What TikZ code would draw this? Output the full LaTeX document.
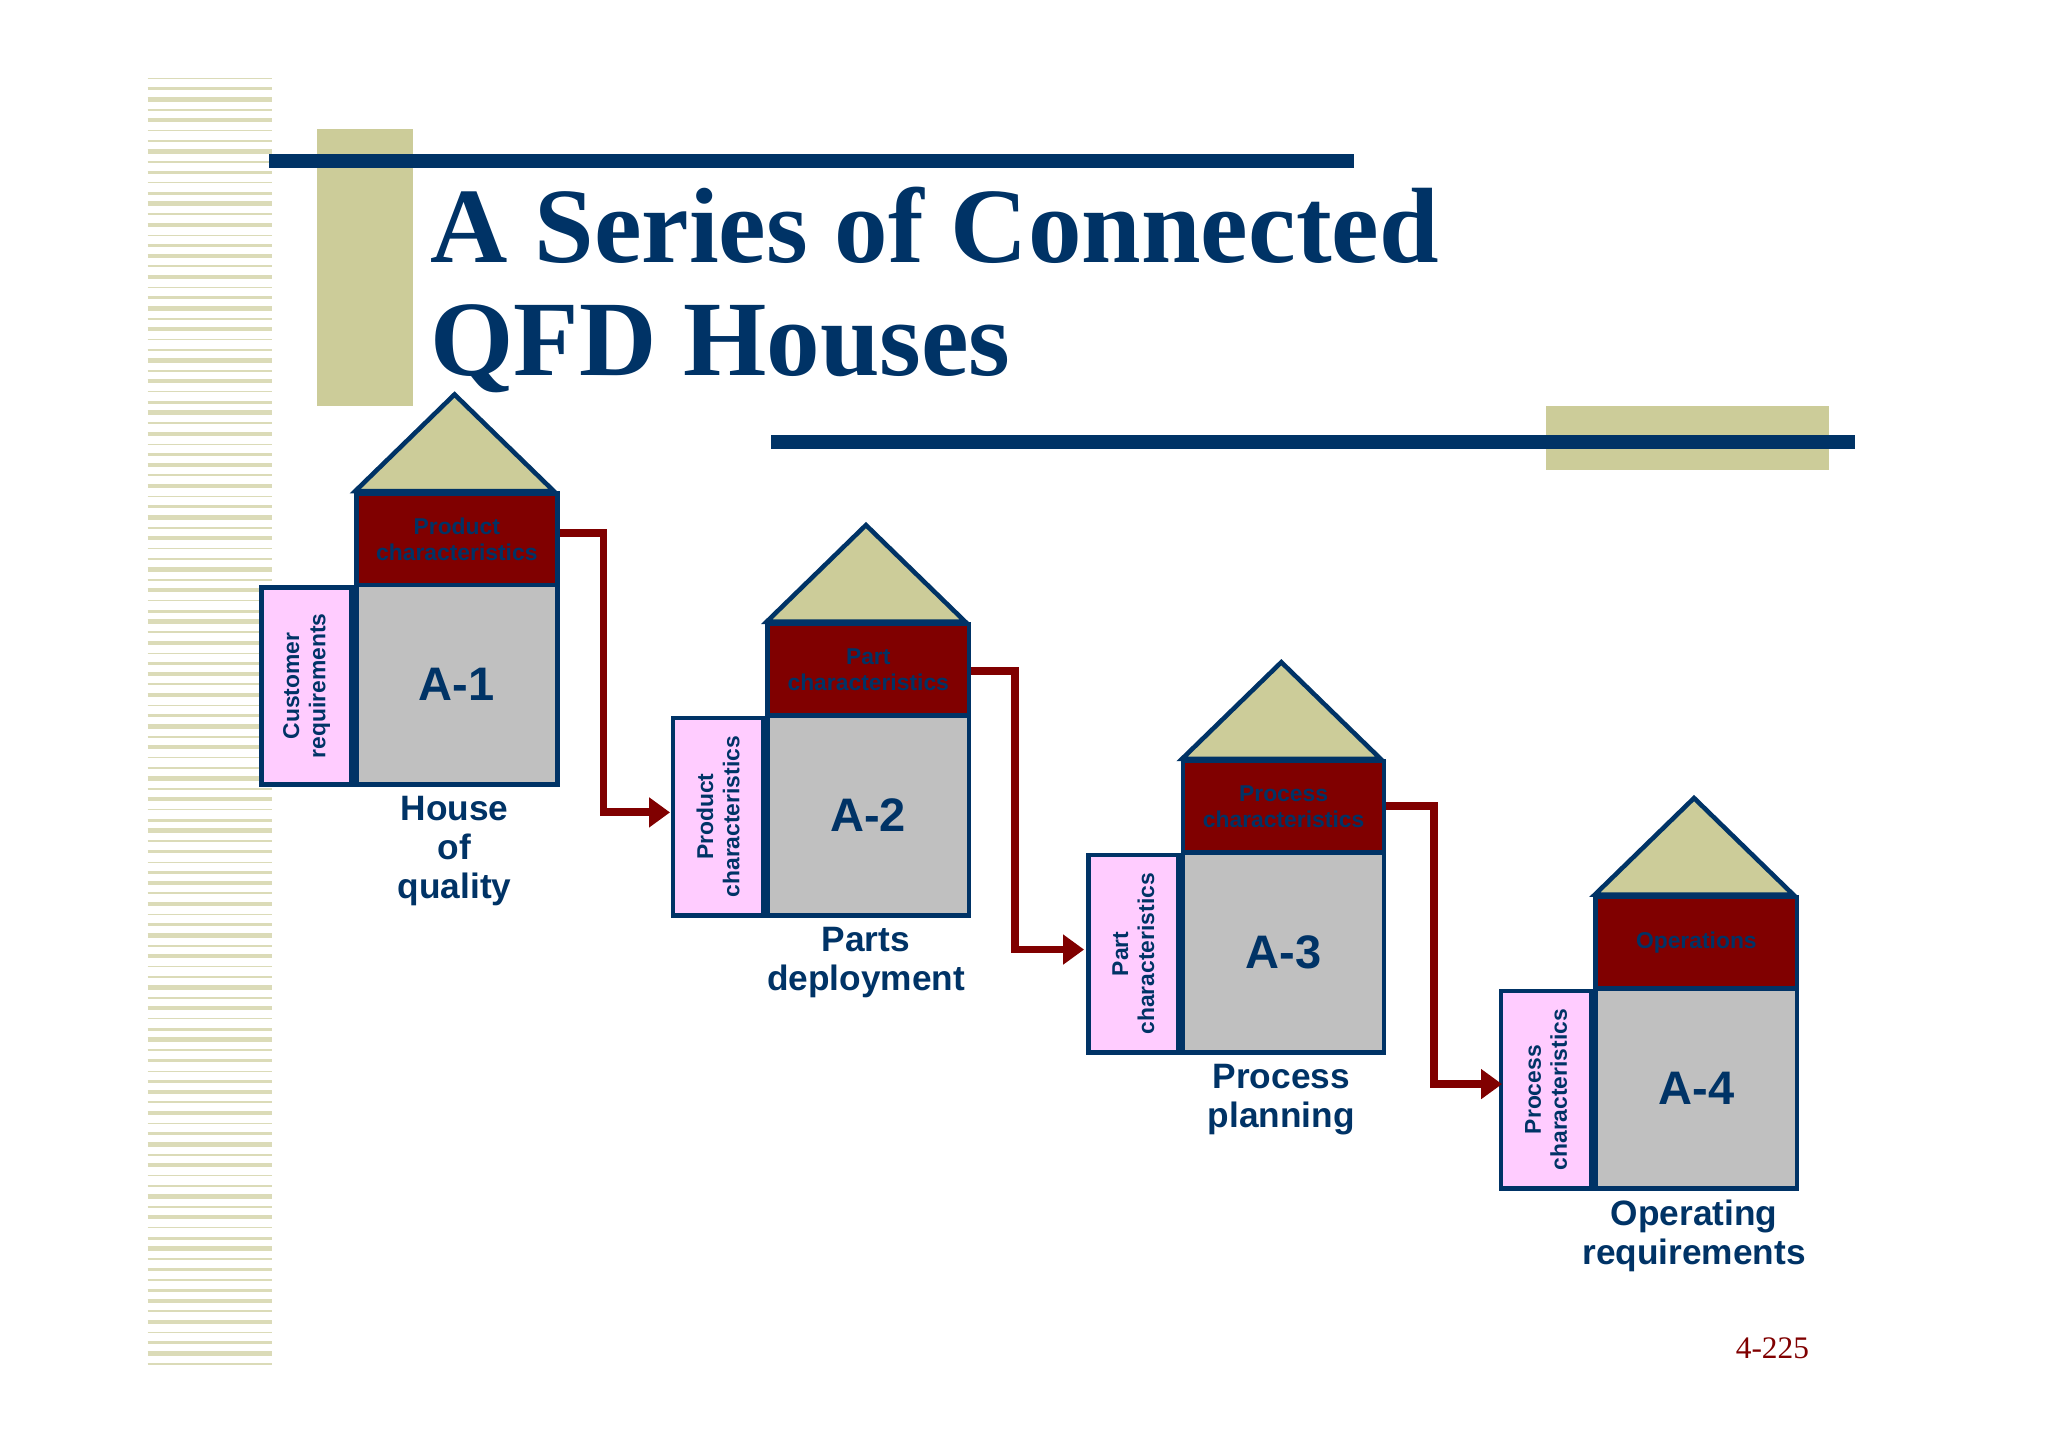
\documentclass[tikz,border=0pt]{standalone}
\usepackage{fontspec}
\setmainfont{Liberation Serif}
\setsansfont{Liberation Sans}
\usetikzlibrary{arrows.meta}
\definecolor{navy}{RGB}{0,51,102}
\definecolor{olive}{RGB}{204,204,153}
\definecolor{dred}{RGB}{128,0,0}
\definecolor{lgray}{RGB}{192,192,192}
\definecolor{lpink}{RGB}{255,204,255}
\tikzset{
 roof/.style={fill=olive,draw=navy,line width=3.5pt,line join=miter},
 redbox/.style={fill=dred,draw=navy,line width=3.5pt,font=\sffamily\bfseries\fontsize{17.5}{20}\selectfont,text=navy,align=center},
 graybox/.style={fill=lgray,draw=navy,line width=3.5pt,font=\sffamily\bfseries\fontsize{36}{40}\selectfont,text=navy},
 pinkbox/.style={fill=lpink,draw=navy,line width=3.5pt},
 pinktext/.style={font=\sffamily\bfseries\fontsize{17.5}{20}\selectfont,text=navy,align=center,rotate=90},
 caption/.style={font=\sffamily\bfseries\fontsize{27}{30}\selectfont,text=navy,align=center,anchor=north},
 conn/.style={dred,line width=6pt,-{Triangle[length=16pt,width=22pt]}}
}
\begin{document}
\begin{tikzpicture}[x=1pt,y=-1pt]
\useasboundingbox (0,0) rectangle (1568,1108);
\fill[white] (0,0) rectangle (1568,1108);
% stripes
\foreach \i in {0,...,123}{
  \pgfmathsetmacro{\w}{0.8+mod(\i*7,5)*0.7}
  \draw[olive!70,line width=\w pt] (113,60+8*\i) -- (208,60+8*\i);
}
% title decoration
\fill[olive] (243,99) rectangle (316,311);
\fill[navy] (206,118) rectangle (1037,129);
\fill[olive] (1184,311) rectangle (1400,360);
\fill[navy] (590,333) rectangle (1420,344);
\node[anchor=west,align=left,text=navy,font=\bfseries\fontsize{82}{86}\selectfont] (title) at (326,222) {A Series of Connected\\QFD Houses};
\node[text=dred,font=\fontsize{24}{26}\selectfont] (pg) at (1357,1032) {4-225};
% houses
\foreach \n/\x/\y/\rt/\pt/\cap in {
 1/271/376/{Product\\characteristics}/{Customer\\requirements}/{House\\of\\quality},
 2/586/476/{Part\\characteristics}/{Product\\characteristics}/{Parts\\deployment},
 3/904/581/{Process\\characteristics}/{Part\\characteristics}/{Process\\planning},
 4/1220/685/{Operations}/{Process\\characteristics}/{Operating\\requirements}}{
  \filldraw[roof] (\x+1,\y) -- (\x+77,\y-74) -- (\x+153,\y) -- cycle;
  \node[redbox,minimum width=154pt,minimum height=70pt,inner sep=0pt,anchor=north west] (r\n) at (\x,\y) {\rt};
  \node[graybox,minimum width=154pt,minimum height=153pt,inner sep=0pt,anchor=north west] (g\n) at (\x,\y+70) {A-\n};
  \node[pinkbox,minimum width=69pt,minimum height=151pt,inner sep=0pt,anchor=north east] (p\n) at (\x,\y+72) {};
  \node[pinktext] at (p\n.center) {\pt};
  \node[caption] (c\n) at (\x+77,\y+230) {\cap};
}
\coordinate (t2) at (513,622);
\coordinate (t3) at (830,727);
\coordinate (t4) at (1150,830);
\draw[conn] (r1.east |- 0,408) -| (462,622) -- (t2);
\draw[conn] (r2.east |- 0,514) -| (777,727) -- (t3);
\draw[conn] (r3.east |- 0,617) -| (1098,830) -- (t4);
\end{tikzpicture}
\end{document}
